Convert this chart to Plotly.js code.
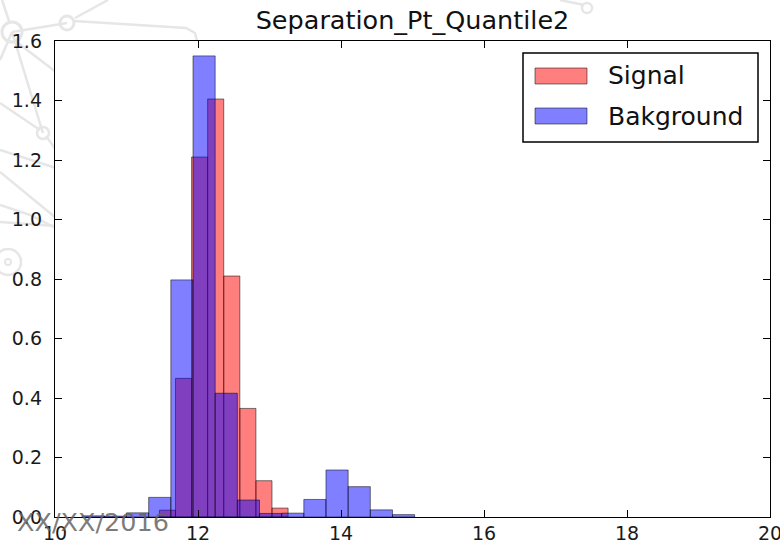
<!DOCTYPE html>
<html>
<head>
<meta charset="utf-8">
<script src="https://cdn.plot.ly/plotly-3.0.1.min.js"></script>
<style>
  html, body { margin: 0; padding: 0; background: #ffffff; }
  #chart { width: 780px; height: 545px; }
</style>
</head>
<body>
<div id="chart"></div>
<script>
// Normalised histograms of the second Pt quantile separation
const chartTitle = 'Separation_Pt_Quantile2';
const seriesNames = ['Signal', 'Bakground'];

const signalBinLefts = [11.46, 11.685, 11.91, 12.135, 12.36, 12.585, 12.81, 13.035];
const signalDensity  = [0.023, 0.466, 1.21, 1.405, 0.81, 0.365, 0.122, 0.030];
const signalBinWidth = 0.225;

const backgroundBinLefts = [10.38, 10.69, 11.00, 11.31, 11.62, 11.93, 12.24, 12.55,
                            12.86, 13.17, 13.48, 13.79, 14.10, 14.41, 14.72];
const backgroundDensity  = [0.004, 0.003, 0.014, 0.066, 0.797, 1.55, 0.416, 0.057,
                            0.012, 0.013, 0.059, 0.158, 0.102, 0.024, 0.008];
const backgroundBinWidth = 0.31;

const xTickValues = [10, 12, 14, 16, 18, 20];
const yTickValues = [0.0, 0.2, 0.4, 0.6, 0.8, 1.0, 1.2, 1.4, 1.6];
const dateStamp = 'XX/XX/2016';

// Figure geometry (pixels)
const FIG_W = 780, FIG_H = 545;
const PLOT_L = 55, PLOT_R = 770, PLOT_T = 41, PLOT_B = 517;
const px = x => (x - PLOT_L) / (PLOT_R - PLOT_L);
const py = y => (PLOT_B - y) / (PLOT_B - PLOT_T);

const FONT = 'DejaVu Sans, Liberation Sans, sans-serif';
const fills = ['rgba(255,0,0,0.5)', 'rgba(0,0,255,0.5)'];
const edge = 'rgba(0,0,0,0.5)';

function histTrace(name, lefts, dens, width, fill) {
  return {
    type: 'bar',
    name: name,
    x: lefts,
    y: dens,
    width: lefts.map(() => width),
    offset: 0,
    marker: { color: fill, line: { color: edge, width: 1 } },
    hoverinfo: 'x+y'
  };
}

const traces = [
  histTrace(seriesNames[0], signalBinLefts, signalDensity, signalBinWidth, fills[0]),
  histTrace(seriesNames[1], backgroundBinLefts, backgroundDensity, backgroundBinWidth, fills[1])
];

// Faint network decoration in the figure background
const wm = '#e6e6e6';
function seg(pts) {
  return {
    type: 'path', xref: 'paper', yref: 'paper', layer: 'below',
    path: pts.map((p, i) => (i ? 'L' : 'M') + px(p[0]).toFixed(4) + ',' + py(p[1]).toFixed(4)).join(' '),
    line: { color: wm, width: 2.5 }
  };
}
function ring(cx, cy, r, w) {
  return {
    type: 'circle', xref: 'paper', yref: 'paper', layer: 'below',
    x0: px(cx - r), x1: px(cx + r), y0: py(cy + r), y1: py(cy - r),
    line: { color: wm, width: w }, fillcolor: 'rgba(0,0,0,0)'
  };
}
const decoration = [
  seg([[12, 32], [67, 23]]),
  seg([[75, 18], [108, 0]]),
  seg([[74, 21], [186, 28], [195, 33], [197, 41]]),
  seg([[12, 32], [43, 133]]),
  seg([[14, 40], [56, 72]]),
  seg([[2, 0], [10, 24]]),
  seg([[0, 103], [40, 130]]),
  seg([[46, 136], [56, 150]]),
  seg([[0, 150], [56, 168]]),
  seg([[0, 172], [56, 218]]),
  seg([[0, 205], [30, 215], [56, 228]]),
  seg([[0, 222], [56, 226]]),
  seg([[0, 60], [12, 32]]),
  seg([[560, 0], [584, 5]]),
  ring(67, 23, 7, 3),
  ring(12, 32, 10, 3),
  ring(43, 133, 6, 2.5),
  ring(8, 262, 13, 2.5),
  ring(8, 262, 3, 2),
  ring(587, 8, 5, 2.5),
  // keep the axes area clean
  { type: 'rect', xref: 'paper', yref: 'paper', layer: 'below',
    x0: 0, x1: 1, y0: 0, y1: 1, fillcolor: '#ffffff', line: { width: 0 } }
];

// Legend frame and patches
const legendBox = { l: 523, r: 758, t: 53, b: 142 };
const rowY = [76, 116];
const legendShapes = [
  { type: 'rect', xref: 'paper', yref: 'paper', layer: 'above',
    x0: px(legendBox.l), x1: px(legendBox.r), y0: py(legendBox.b), y1: py(legendBox.t),
    fillcolor: '#ffffff', line: { color: '#000000', width: 1.5 } }
];
const legendText = [];
seriesNames.forEach((name, i) => {
  legendShapes.push({
    type: 'rect', xref: 'paper', yref: 'paper', layer: 'above',
    x0: px(535), x1: px(587), y0: py(rowY[i] + 8), y1: py(rowY[i] - 8),
    fillcolor: fills[i], line: { color: edge, width: 1 }
  });
  legendText.push({
    xref: 'paper', yref: 'paper', x: px(606), y: py(rowY[i]),
    xanchor: 'left', yanchor: 'middle', showarrow: false,
    text: name, font: { family: FONT, size: 25, color: '#111111' }
  });
});

const axisCommon = {
  showline: true, linecolor: '#000000', linewidth: 1.2, mirror: 'allticks',
  ticks: 'inside', ticklen: 7, tickwidth: 1, tickcolor: '#000000',
  showgrid: false, zeroline: false, ticklabeloverflow: 'allow',
  tickfont: { family: FONT, size: 19, color: '#1a1a1a' }
};

const layout = {
  width: FIG_W, height: FIG_H,
  margin: { l: PLOT_L, r: FIG_W - PLOT_R, t: PLOT_T, b: FIG_H - PLOT_B },
  paper_bgcolor: '#ffffff', plot_bgcolor: '#ffffff',
  barmode: 'overlay', bargap: 0, showlegend: false,
  title: {
    text: chartTitle, xref: 'paper', x: 0.5, xanchor: 'center',
    yref: 'container', y: 1 - 20 / FIG_H, yanchor: 'middle',
    font: { family: FONT, size: 25.5, color: '#111111' }
  },
  xaxis: Object.assign({}, axisCommon, {
    range: [10, 20], tickmode: 'array', tickvals: xTickValues,
    ticktext: xTickValues.map(String), ticklabelstandoff: -1
  }),
  yaxis: Object.assign({}, axisCommon, {
    range: [0, 1.6], tickmode: 'array', tickvals: yTickValues,
    ticktext: yTickValues.map(v => v.toFixed(1)), ticklabelstandoff: 8
  }),
  shapes: decoration.concat(legendShapes),
  annotations: legendText.concat([{
    xref: 'paper', yref: 'paper', x: px(15), y: py(522),
    xanchor: 'left', yanchor: 'middle', showarrow: false,
    text: dateStamp, font: { family: FONT, size: 25.5, color: 'rgba(100,100,100,0.85)' }
  }])
};

Plotly.newPlot('chart', traces, layout, { staticPlot: true, displayModeBar: false });
</script>
</body>
</html>
